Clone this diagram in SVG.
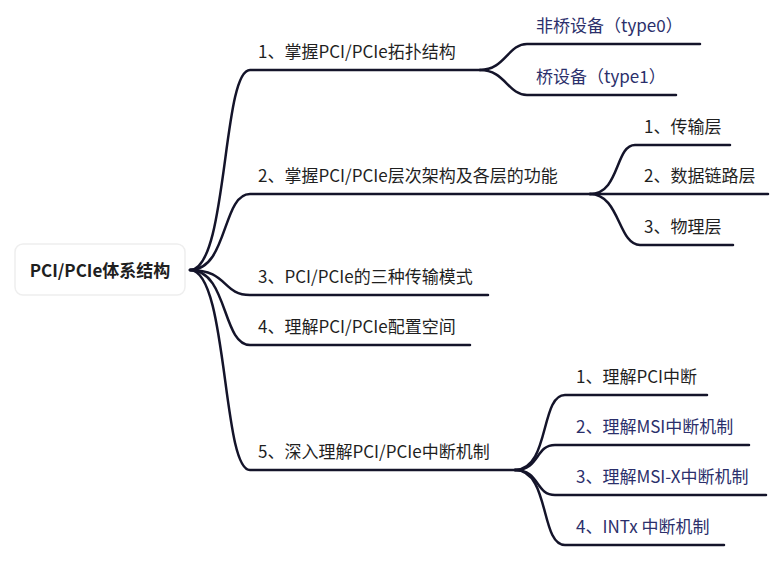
<svg xmlns="http://www.w3.org/2000/svg" width="777" height="563" viewBox="0 0 777 563">
<style>
text{font-family:"Noto Sans CJK SC","Noto Sans",sans-serif;font-size:17px;fill:#1f1f1f}
.leaf{fill:#2b2f6b}
.c path{fill:none;stroke:#14142a;stroke-width:2.5;stroke-linecap:round}
</style>
<rect width="777" height="563" fill="#fff"/>
<g class="c" id="connectors">
<path d="M190 270 C228 270 222 70 250 70 L480 70"/>
<path d="M190 270 C228 270 222 194 250 194 L590 194"/>
<path d="M190 270 C228 270 222 295 250 295 L488 295"/>
<path d="M190 270 C228 270 222 345 250 345 L470 345"/>
<path d="M190 270 C228 270 222 470 250 470 L515 470"/>
<path d="M480 70 C505 70 508 44 527 44 L700 44"/>
<path d="M480 70 C505 70 508 95 527 95 L676 95"/>
<path d="M590 194 C620 194 615 145 635 145 L730 145"/>
<path d="M590 194 L768 194"/>
<path d="M590 194 C620 194 618 245 640 245 L733 245"/>
<path d="M515 470 C550 470 540 395 565 395 L707 395"/>
<path d="M515 470 C540 470 535 445 555 445 L749 445"/>
<path d="M515 470 C540 470 535 495 555 495 L766 495"/>
<path d="M515 470 C550 470 540 545 565 545 L724 545"/>
</g>
<g id="root"><rect x="15" y="244" width="170" height="51" rx="8" fill="#fff" stroke="#eee" stroke-width="1.5"/><text x="100" y="277" text-anchor="middle" font-weight="bold">PCI/PCIe体系结构</text></g>
<g id="b1"><text x="258" y="58">1、掌握PCI/PCIe拓扑结构</text></g>
<g id="b1a"><text x="536" y="32" class="leaf">非桥设备（type0）</text></g>
<g id="b1b"><text x="536" y="83" class="leaf">桥设备（type1）</text></g>
<g id="b2"><text x="258" y="182">2、掌握PCI/PCIe层次架构及各层的功能</text></g>
<g id="b2a"><text x="644" y="133">1、传输层</text></g>
<g id="b2b"><text x="644" y="182">2、数据链路层</text></g>
<g id="b2c"><text x="644" y="233">3、物理层</text></g>
<g id="b3"><text x="258" y="283">3、PCI/PCIe的三种传输模式</text></g>
<g id="b4"><text x="258" y="333">4、理解PCI/PCIe配置空间</text></g>
<g id="b5"><text x="258" y="458">5、深入理解PCI/PCIe中断机制</text></g>
<g id="b5a"><text x="576" y="383">1、理解PCI中断</text></g>
<g id="b5b"><text x="576" y="433" class="leaf">2、理解MSI中断机制</text></g>
<g id="b5c"><text x="576" y="483" class="leaf">3、理解MSI-X中断机制</text></g>
<g id="b5d"><text x="576" y="533" class="leaf">4、INTx 中断机制</text></g>
</svg>
